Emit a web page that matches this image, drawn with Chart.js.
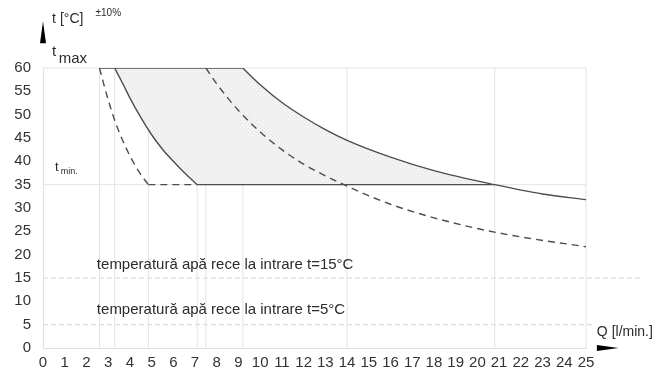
<!DOCTYPE html>
<html>
<head>
<meta charset="utf-8">
<script src="https://cdn.jsdelivr.net/npm/chart.js@4.4.0/dist/chart.umd.min.js"></script>
<style>
html, body { margin: 0; padding: 0; background: #fff; }
#wrap { width: 656px; height: 371px; position: relative; }
</style>
</head>
<body>
<div id="wrap"><canvas id="chart"></canvas></div>
<script>
// Q [l/min] on x, outlet temperature t [°C] on y

// max power, inlet 15°C (solid) and inlet 5°C (dashed)
const hiSolidQ = [9.2, 10, 11, 12, 13, 14, 16, 18, 20.8, 23, 25];
const hiSolidT = [60, 56.4, 52.6, 49.5, 46.8, 44.5, 40.9, 38, 35, 33, 31.8];
const hiDashQ = [7.5, 8, 9, 10, 11, 12, 14, 16, 18, 20, 22, 25];
const hiDashT = [60, 56.6, 50.9, 46.3, 42.5, 39.4, 34.7, 30.8, 27.9, 25.6, 23.8, 21.7];

// min power, inlet 15°C (solid) and inlet 5°C (dashed)
const loSolidQ = [3.3, 3.7, 4, 4.5, 5, 5.5, 6, 6.5, 7.1];
const loSolidT = [60, 56.4, 53.6, 49.4, 45.7, 42.6, 40.0, 37.6, 35];
const loDashQ = [2.6, 2.8, 3, 3.3, 3.6, 4, 4.4, 4.85];
const loDashT = [60, 56.5, 53.2, 48.8, 45.2, 41.2, 37.9, 35];

const tMax = 60;
const tMin = 35;
const inletT = [15, 5];
const guideQ = [2.6, 3.3, 4.85, 7.1, 7.5, 9.2, 14, 20.8, 25];

const xMin = 0, xMax = 25, xStep = 1;
const yMin = 0, yMax = 60, yStep = 5;

const FONT = '"Liberation Sans", Arial, sans-serif';
const LINE = '#4d4d4d';
const GUIDE = '#e3e3e3';

function pts(qs, ts) { return qs.map((q, i) => ({ x: q, y: ts[i] })); }

// hatched fill for the working area
function hatch() {
    const c = document.createElement('canvas');
    c.width = 4; c.height = 4;
    const g = c.getContext('2d');
    g.fillStyle = '#f3f3f3';
    g.fillRect(0, 0, 4, 4);
    g.fillStyle = '#e0e0e0';
    g.fillRect(0, 0, 1, 1);
    g.fillRect(2, 2, 1, 1);
    return g.createPattern(c, 'repeat');
}

// area: min curve (15°C) up to tMax, across, down the max curve until tMin
const areaPts = pts(loSolidQ, loSolidT).reverse()
    .concat(pts(hiSolidQ, hiSolidT).filter(p => p.y >= tMin));

const curve = (data, dashed) => ({
    data: data, borderColor: LINE, borderWidth: 1.4,
    borderDash: dashed ? [7, 5] : [], pointRadius: 0,
    cubicInterpolationMode: 'monotone', fill: false, order: 1
});
const guide = (data, color, dash) => ({
    data: data, borderColor: color, borderWidth: 1, borderDash: dash || [],
    pointRadius: 0, tension: 0, fill: false, order: 3, clip: false
});

const datasets = [];
guideQ.forEach(q => datasets.push(guide([{ x: q, y: yMin }, { x: q, y: tMax }], GUIDE)));
datasets.push(guide([{ x: xMin, y: tMax }, { x: xMax, y: tMax }], GUIDE));
datasets.push(guide([{ x: xMin, y: tMin }, { x: xMax, y: tMin }], GUIDE));
datasets.push(guide([{ x: xMin, y: inletT[0] }, { x: 27.6, y: inletT[0] }], '#d6d6d6', [5, 3]));
datasets.push(guide([{ x: xMin, y: inletT[1] }, { x: 25.3, y: inletT[1] }], '#d6d6d6', [5, 3]));
datasets.push({
    data: areaPts, borderWidth: 0, borderColor: 'transparent', pointRadius: 0,
    tension: 0, fill: 'shape', backgroundColor: hatch(), order: 2
});
datasets.push(curve(pts(hiSolidQ, hiSolidT), false));
datasets.push(curve(pts(hiDashQ, hiDashT), true));
datasets.push(curve(pts(loSolidQ, loSolidT), false));
datasets.push(curve(pts(loDashQ, loDashT), true));
datasets.push(curve([{ x: loDashQ[0], y: tMax }, { x: hiSolidQ[0], y: tMax }], false));
datasets.push(curve([{ x: loDashQ[loDashQ.length - 1], y: tMin }, { x: loSolidQ[loSolidQ.length - 1], y: tMin }], true));
datasets.push(curve([{ x: loSolidQ[loSolidQ.length - 1], y: tMin }, { x: 20.8, y: tMin }], false));

// texts and arrows, placed through the scales
const notes = {
    id: 'notes',
    afterDatasetsDraw(chart) {
        const ctx = chart.ctx;
        const sx = chart.scales.x, sy = chart.scales.y;
        const X = v => sx.getPixelForValue(v);
        const Y = v => sy.getPixelForValue(v);
        ctx.save();
        ctx.fillStyle = '#2b2b2b';
        ctx.textBaseline = 'middle';
        ctx.textAlign = 'left';
        const txt = (s, q, t, size) => {
            ctx.font = size + 'px ' + FONT;
            ctx.fillText(s, X(q), Y(t));
        };
        txt('t [°C]', 0.42, 70.4, 14);
        txt('±10%', 2.42, 71.8, 10);
        txt('t', 0.42, 63.4, 15);
        txt('max', 0.72, 62.0, 15);
        txt('t', 0.55, 38.8, 13);
        txt('min.', 0.82, 37.9, 9);
        txt('temperatură apă rece la intrare t=' + inletT[0] + '°C', 2.48, 17.8, 15);
        txt('temperatură apă rece la intrare t=' + inletT[1] + '°C', 2.48, 8.1, 15);
        txt('Q [l/min.]', 25.5, 3.4, 14);

        // axis arrows
        ctx.fillStyle = '#000';
        const ax = X(0), ay0 = Y(0);
        ctx.beginPath();
        ctx.moveTo(ax, Y(70.0));
        ctx.lineTo(ax + 3, Y(65.3));
        ctx.lineTo(ax - 3, Y(65.3));
        ctx.closePath();
        ctx.fill();
        ctx.beginPath();
        ctx.moveTo(X(26.5), ay0);
        ctx.lineTo(X(25.5), ay0 - 3);
        ctx.lineTo(X(25.5), ay0 + 3);
        ctx.closePath();
        ctx.fill();
        ctx.restore();
    }
};

new Chart(document.getElementById('chart'), {
    type: 'line',
    data: { datasets: datasets },
    options: {
        responsive: true,
        maintainAspectRatio: false,
        animation: false,
        events: [],
        layout: { padding: { left: 0, right: 70, top: 68, bottom: 0 } },
        plugins: { legend: { display: false }, tooltip: { enabled: false } },
        scales: {
            x: {
                type: 'linear', min: xMin, max: xMax,
                grid: { display: false, drawTicks: false },
                border: { display: true, color: '#e0e0e0' },
                ticks: {
                    stepSize: xStep, autoSkip: false, maxRotation: 0, padding: 6,
                    color: '#333', font: { family: FONT, size: 15 }
                },
                afterFit(scale) { scale.height = 23; }
            },
            y: {
                type: 'linear', min: yMin, max: yMax,
                grid: { display: false, drawTicks: false },
                border: { display: true, color: '#e0e0e0' },
                ticks: {
                    stepSize: yStep, padding: 12,
                    color: '#333', font: { family: FONT, size: 15 }
                },
                afterFit(scale) { scale.width = 43; }
            }
        }
    },
    plugins: [notes]
});
</script>
</body>
</html>
